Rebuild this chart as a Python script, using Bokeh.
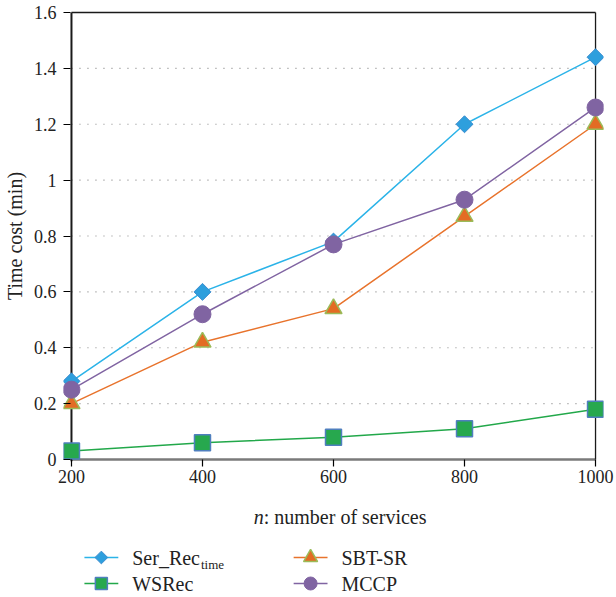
import math
from bokeh.plotting import figure
from bokeh.layouts import column
from bokeh.models import Range1d, FixedTicker
from bokeh.core.properties import value
from bokeh.embed import file_html
from bokeh.resources import INLINE

# ---- data ----
n_services = [200, 400, 600, 800, 1000]
ser_rec_time = [0.28, 0.60, 0.78, 1.20, 1.44]
wsrec = [0.03, 0.06, 0.08, 0.11, 0.18]
sbt_sr = [0.20, 0.42, 0.54, 0.87, 1.20]
mccp = [0.25, 0.52, 0.77, 0.93, 1.26]
x_ticks = [200, 400, 600, 800, 1000]
y_ticks = [0, 0.2, 0.4, 0.6, 0.8, 1.0, 1.2, 1.4, 1.6]
y_tick_labels = {0: "0", 0.2: "0.2", 0.4: "0.4", 0.6: "0.6", 0.8: "0.8",
                 1.0: "1", 1.2: "1.2", 1.4: "1.4", 1.6: "1.6"}
series_names = ["Ser_Rec", "WSRec", "SBT-SR", "MCCP"]
x_label_italic = "n"
x_label_rest = ": number of services"
y_label = "Time cost (min)"

FONT = "Liberation Serif"
TXT = "#222222"

# layout geometry (pixels)
W, H = 616, 597
MAIN_H = 495
axis_left_px, axis_right_px = 69, 595
axis_top_px, axis_bottom_px = 12, 459
xpad_px, ypad_px = 8, 2
BL = axis_left_px - xpad_px          # left border
BR = W - axis_right_px - xpad_px     # right border

xscale = (x_ticks[-1] - x_ticks[0]) / (axis_right_px - axis_left_px)
yscale = (y_ticks[-1] - y_ticks[0]) / (axis_bottom_px - axis_top_px)

x_start = x_ticks[0] - xpad_px * xscale
x_end = x_ticks[-1] + xpad_px * xscale
y_start = y_ticks[0] - ypad_px * yscale
y_end = y_ticks[-1] + ypad_px * yscale

p = figure(width=W, height=MAIN_H, output_backend="svg", toolbar_location=None,
           x_range=Range1d(x_start, x_end), y_range=Range1d(y_start, y_end),
           min_border_left=BL, min_border_right=BR,
           min_border_top=axis_top_px - ypad_px,
           min_border_bottom=MAIN_H - axis_bottom_px - ypad_px)
p.background_fill_color = "white"
p.border_fill_color = "white"
p.outline_line_color = None
p.xgrid.visible = False
p.ygrid.visible = False

# y axis
ya = p.yaxis[0]
ya.ticker = FixedTicker(ticks=y_ticks)
ya.major_label_overrides = y_tick_labels
ya.axis_line_color = None
ya.major_tick_in = xpad_px - 1
ya.major_tick_out = 0
ya.major_tick_line_color = "black"
ya.major_tick_line_width = 1.2
ya.minor_tick_line_color = None
ya.major_label_standoff = 7
ya.major_label_text_font = FONT
ya.major_label_text_font_size = "18px"
ya.major_label_text_color = TXT
ya.axis_label = y_label
ya.axis_label_text_font = FONT
ya.axis_label_text_font_size = "20px"
ya.axis_label_text_font_style = "normal"
ya.axis_label_text_color = TXT
ya.axis_label_standoff = 5

# x axis
xa = p.xaxis[0]
xa.ticker = FixedTicker(ticks=x_ticks)
xa.axis_line_color = None
xa.major_tick_in = ypad_px
xa.major_tick_out = 5
xa.major_tick_line_color = "black"
xa.major_tick_line_width = 1.2
xa.minor_tick_line_color = None
xa.major_label_standoff = 3
xa.major_label_text_font = FONT
xa.major_label_text_font_size = "18px"
xa.major_label_text_color = TXT

# grid (dotted)
grid_y = y_ticks[1:-1]
p.segment(x0=[x_ticks[0]] * len(grid_y), x1=[x_ticks[-1]] * len(grid_y),
          y0=grid_y, y1=grid_y, line_color="#8a8a8a", line_width=1.2,
          line_dash="1 7")

# frame lines
p.segment(x0=[x_ticks[0]], x1=[x_ticks[-1]], y0=[y_ticks[0]], y1=[y_ticks[0]],
          line_color="#7a7a7a", line_width=2.5)
p.segment(x0=[x_ticks[0]], x1=[x_ticks[-1]], y0=[y_ticks[-1]], y1=[y_ticks[-1]],
          line_color="#1a1a1a", line_width=1.3)
p.segment(x0=[x_ticks[-1]], x1=[x_ticks[-1]], y0=[y_ticks[0]], y1=[y_ticks[-1]],
          line_color="#1a1a1a", line_width=1.3)
p.segment(x0=[x_ticks[0]], x1=[x_ticks[0]], y0=[y_start], y1=[y_ticks[-1]],
          line_color="#1a1a1a", line_width=2)

# series styles
styles = [
    dict(line="#2BB3E8", marker="square", angle=math.pi / 4, size=12, lsize=9,
         fill="#2E9FDD", edge="#3A8CCF", ew=1),
    dict(line="#22A84A", marker="square", angle=0, size=16, lsize=12,
         fill="#27A84E", edge="#4F7FBE", ew=1.5),
    dict(line="#E8732C", marker="triangle", angle=0, size=17, lsize=14,
         fill="#E36C24", edge="#9BBB59", ew=1.5),
    dict(line="#8064A2", marker="circle", angle=0, size=17, lsize=13,
         fill="#8064A2", edge="#8064A2", ew=1),
]
series_vals = [ser_rec_time, wsrec, sbt_sr, mccp]
for vals, st in zip(series_vals, styles):
    p.line(n_services, vals, line_color=st["line"], line_width=1.5)
    p.scatter(n_services, vals, marker=st["marker"], size=st["size"],
              angle=st["angle"], fill_color=st["fill"], line_color=st["edge"],
              line_width=st["ew"])

# ---- strip below: x axis label + legend (coordinates = canvas pixels) ----
LEG_H = H - MAIN_H
lg = figure(width=W, height=LEG_H, output_backend="svg", toolbar_location=None,
            x_range=Range1d(BL, W - BR), y_range=Range1d(LEG_H, 0),
            x_axis_location=None, y_axis_location=None,
            min_border_left=BL, min_border_right=BR,
            min_border_top=0, min_border_bottom=0)
lg.grid.visible = False
lg.outline_line_color = None
lg.background_fill_color = "white"
lg.border_fill_color = "white"

# x-axis title
lab_x, lab_y = 262, 21
lg.text([lab_x], [lab_y], text=[x_label_italic], text_font=value(FONT),
        text_font_size="20px", text_font_style="italic", text_align="right",
        text_baseline="middle", text_color=TXT)
lg.text([lab_x], [lab_y], text=[x_label_rest], text_font=value(FONT),
        text_font_size="20px", text_align="left", text_baseline="middle",
        text_color=TXT)

# legend slot positions (canvas pixels)
slots = [(82, 62), (82, 88), (292, 62), (292, 88)]
gw = 34
for (sx, sy), st, name in zip(slots, styles, series_names):
    lg.segment(x0=[sx], x1=[sx + gw], y0=[sy], y1=[sy],
               line_color=st["line"], line_width=1.5)
    lg.scatter([sx + gw / 2], [sy], marker=st["marker"], size=st["lsize"],
               angle=st["angle"], fill_color=st["fill"], line_color=st["edge"],
               line_width=st["ew"])
    lg.text([sx + gw + 14], [sy], text=[name], text_font=value(FONT),
            text_font_size="20px", text_baseline="middle", text_color=TXT)

lg.text([199], [slots[0][1] + 7], text=["time"], text_font=value(FONT),
        text_font_size="13px", text_baseline="middle", text_color=TXT)

layout = column(p, lg, spacing=0)
open("out.html", "w").write(file_html(layout, INLINE))
